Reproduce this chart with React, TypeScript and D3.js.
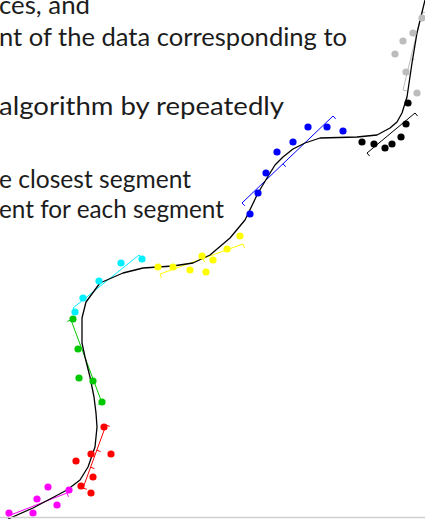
import React from "react";
import * as d3 from "d3";

const W = 425;
const H = 519;

// Slide text (right-aligned fragments), with baseline y and right edge x
const textLines = [
  "ces, and",
  "nt of the data corresponding to",
  "algorithm by repeatedly",
  "e closest segment",
  "ent for each segment",
];
const textBaselines = [14, 45.5, 115, 188, 217.5];
const textRightEdges = [90, 347, 284, 191, 224];

// Fitted principal curve (polygonal line), data units with y up
const curve: [number, number][] = [
  [8, 0], [33, 11], [67, 29], [80, 39], [88, 52], [95, 72], [97, 92], [96, 106],
  [94, 122], [90, 142], [85, 162], [82, 176], [82, 201], [86, 217], [100, 236],
  [123, 246], [143, 251], [173, 253], [193, 256], [210, 264], [230, 281],
  [245, 299], [258, 326], [267, 341], [275, 354], [283, 362], [293, 370],
  [305, 376], [320, 381], [357, 382], [377, 384], [390, 391], [397, 397],
  [402, 406], [407, 422], [412, 456], [417, 486], [425, 519],
];

// Cluster names and colours
const clusters = ["magenta", "red", "green", "cyan", "yellow", "blue", "black", "gray"];
const clusterColors = ["#ff00ff", "#ff0000", "#00c800", "#00f0ff", "#ffff00", "#0000ff", "#000000", "#bcbcbc"];

// Data points for each cluster
const magentaPts: [number, number][] = [[9, 6], [33, 6], [37, 20], [48, 32], [57, 14], [69, 29]];
const redPts: [number, number][] = [[104, 92], [91, 65], [111, 65], [76, 58], [93, 42], [81, 33], [91, 26]];
const greenPts: [number, number][] = [[73, 200], [78, 170], [79, 141], [93, 138], [102, 117]];
const cyanPts: [number, number][] = [[75, 207], [83, 221], [99, 238], [121, 256], [142, 260]];
const yellowPts: [number, number][] = [[158, 252], [173, 252], [190, 249], [202, 263], [206, 247], [213, 259], [227, 270], [240, 283]];
const bluePts: [number, number][] = [[250, 305], [258, 326], [266, 346], [277, 367], [293, 377], [308, 392], [327, 392], [343, 388]];
const blackPts: [number, number][] = [[408, 416], [406, 395], [401, 382], [392, 375], [385, 371], [374, 375], [362, 377]];
const grayPts: [number, number][] = [[422, 501], [413, 486], [403, 478], [395, 465], [406, 447], [417, 426]];
const clusterPoints = [magentaPts, redPts, greenPts, cyanPts, yellowPts, bluePts, blackPts, grayPts];

// Local line segment fitted to each cluster (start, end)
const segments: [[number, number], [number, number]][] = [
  [[8, 3], [67, 26]],
  [[83, 31], [106, 94]],
  [[71, 199], [102, 116]],
  [[73, 211], [139, 264]],
  [[160, 245], [243, 275]],
  [[242, 316], [333, 403]],
  [[367, 366], [415, 406]],
  [[403, 429], [422, 507]],
];
// Positions (fraction along segment) of the small perpendicular ticks
const segmentTicks = [
  [0, 1],
  [0, 0.33, 0.6, 1],
  [0, 1],
  [0, 1],
  [0, 0.52, 1],
  [0, 0.45, 1],
  [0, 1],
  [0, 0.4, 1],
];

export default function App() {
  const x = d3.scaleLinear().domain([0, W]).range([0, W]);
  const y = d3.scaleLinear().domain([0, H]).range([H, 0]);

  const line = d3
    .line<[number, number]>()
    .x((d) => x(d[0]))
    .y((d) => y(d[1]));

  const tickLen = 4;

  return (
    <svg
      width={W}
      height={H}
      style={{ position: "fixed", left: 0, top: 0, background: "#fff" }}
    >
      <rect x={0} y={0} width={W} height={H} fill="#fff" />
      {textLines.map((t, i) => (
        <text
          key={i}
          x={textRightEdges[i]}
          y={textBaselines[i]}
          textAnchor="end"
          fontFamily="Lato, 'Open Sans', sans-serif"
          fontSize={24.5}
          fill="#1c1c1c"
          textLength={textRightEdges[i] + 1}
          lengthAdjust="spacingAndGlyphs"
        >
          {t}
        </text>
      ))}

      {segments.map((seg, i) => {
        const [p0, p1] = seg;
        const sx0 = x(p0[0]), sy0 = y(p0[1]);
        const sx1 = x(p1[0]), sy1 = y(p1[1]);
        const len = Math.hypot(sx1 - sx0, sy1 - sy0);
        const dx = (sx1 - sx0) / len, dy = (sy1 - sy0) / len;
        const nx = -dy, ny = dx;
        return (
          <g key={clusters[i]} stroke={clusterColors[i]} strokeWidth={1} fill="none">
            <line x1={sx0} y1={sy0} x2={sx1} y2={sy1} />
            {segmentTicks[i].map((t, j) => {
              const cx = sx0 + (sx1 - sx0) * t;
              const cy = sy0 + (sy1 - sy0) * t;
              return (
                <line key={j} x1={cx} y1={cy} x2={cx + nx * tickLen} y2={cy + ny * tickLen} />
              );
            })}
          </g>
        );
      })}

      <path d={line(curve) ?? ""} fill="none" stroke="#000" strokeWidth={1.3} strokeLinejoin="round" />

      {clusterPoints.map((pts, i) => (
        <g key={clusters[i]} fill={clusterColors[i]}>
          {pts.map((p, j) => (
            <circle key={j} cx={x(p[0])} cy={y(p[1])} r={3.6} />
          ))}
        </g>
      ))}

      <line x1={0} x2={W} y1={517.5} y2={517.5} stroke="#cfcfcf" strokeWidth={1.5} />
    </svg>
  );
}
